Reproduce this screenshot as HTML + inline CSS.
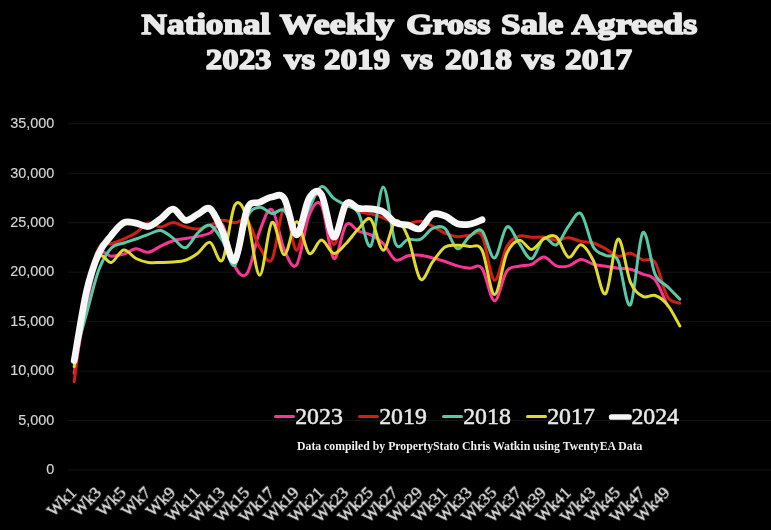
<!DOCTYPE html>
<html><head><meta charset="utf-8"><title>National Weekly Gross Sale Agreeds</title>
<style>
html,body{margin:0;padding:0;background:#000;}
body{width:771px;height:530px;overflow:hidden;font-family:"Liberation Serif",serif;}
svg{display:block;}
text{filter:url(#gs);}
.ttl{font-family:"Liberation Serif",serif;font-weight:bold;font-size:29.2px;fill:#eaeaea;stroke:#eaeaea;stroke-width:1.6px;stroke-linejoin:round;}
.yl{font-family:"Liberation Sans",sans-serif;font-size:14.4px;fill:#d4d4d4;stroke:#d4d4d4;stroke-width:0.15px;}
.xl{font-family:"Liberation Serif",serif;font-size:17.2px;fill:#e4e4e4;stroke:#e4e4e4;stroke-width:0.35px;}
.lg{font-family:"Liberation Serif",serif;font-size:22.5px;fill:#e8e8e8;stroke:#e8e8e8;stroke-width:0.5px;}
.cap{font-family:"Liberation Serif",serif;font-weight:bold;font-size:11.8px;fill:#f0f0f0;}
</style></head><body>
<svg width="771" height="530" viewBox="0 0 771 530">
<defs><filter id="gs" x="-5%" y="-50%" width="110%" height="200%" color-interpolation-filters="sRGB"><feOffset dx="0" dy="0"/></filter></defs>
<rect width="771" height="530" fill="#000"/>
<line x1="68" x2="771" y1="469.95" y2="469.95" stroke="#161616" stroke-width="1"/>
<line x1="68" x2="771" y1="420.50" y2="420.50" stroke="#161616" stroke-width="1"/>
<line x1="68" x2="771" y1="371.06" y2="371.06" stroke="#161616" stroke-width="1"/>
<line x1="68" x2="771" y1="321.61" y2="321.61" stroke="#161616" stroke-width="1"/>
<line x1="68" x2="771" y1="272.16" y2="272.16" stroke="#161616" stroke-width="1"/>
<line x1="68" x2="771" y1="222.71" y2="222.71" stroke="#161616" stroke-width="1"/>
<line x1="68" x2="771" y1="173.27" y2="173.27" stroke="#161616" stroke-width="1"/>
<line x1="68" x2="771" y1="123.82" y2="123.82" stroke="#161616" stroke-width="1"/>
<text x="54.3" y="474.25" text-anchor="end" class="yl">0</text>
<text x="54.3" y="424.80" text-anchor="end" class="yl">5,000</text>
<text x="54.3" y="375.36" text-anchor="end" class="yl">10,000</text>
<text x="54.3" y="325.91" text-anchor="end" class="yl">15,000</text>
<text x="54.3" y="276.46" text-anchor="end" class="yl">20,000</text>
<text x="54.3" y="227.01" text-anchor="end" class="yl">25,000</text>
<text x="54.3" y="177.57" text-anchor="end" class="yl">30,000</text>
<text x="54.3" y="128.12" text-anchor="end" class="yl">35,000</text>
<text x="141.60" y="33.5" class="ttl" textLength="128.60" lengthAdjust="spacingAndGlyphs">National</text>
<text x="279.80" y="33.5" class="ttl" textLength="114.10" lengthAdjust="spacingAndGlyphs">Weekly</text>
<text x="406.30" y="33.5" class="ttl" textLength="84.20" lengthAdjust="spacingAndGlyphs">Gross</text>
<text x="500.90" y="33.5" class="ttl" textLength="62.30" lengthAdjust="spacingAndGlyphs">Sale</text>
<text x="571.50" y="33.5" class="ttl" textLength="125.70" lengthAdjust="spacingAndGlyphs">Agreeds</text>
<text x="205.80" y="68.8" class="ttl" textLength="65.70" lengthAdjust="spacingAndGlyphs">2023</text>
<text x="284.00" y="68.8" class="ttl" textLength="31.00" lengthAdjust="spacingAndGlyphs">vs</text>
<text x="324.00" y="68.8" class="ttl" textLength="66.00" lengthAdjust="spacingAndGlyphs">2019</text>
<text x="402.00" y="68.8" class="ttl" textLength="31.00" lengthAdjust="spacingAndGlyphs">vs</text>
<text x="445.00" y="68.8" class="ttl" textLength="67.00" lengthAdjust="spacingAndGlyphs">2018</text>
<text x="522.00" y="68.8" class="ttl" textLength="33.00" lengthAdjust="spacingAndGlyphs">vs</text>
<text x="565.00" y="68.8" class="ttl" textLength="67.00" lengthAdjust="spacingAndGlyphs">2017</text>
<path d="M74.20,373.23 C76.26,361.83 82.44,324.44 86.56,304.80 C90.68,285.15 94.80,263.45 98.92,255.35 C103.04,247.25 107.16,256.38 111.28,256.18 C115.40,255.98 119.52,255.38 123.64,254.16 C127.76,252.94 131.88,249.18 136.00,248.87 C140.12,248.56 144.24,252.75 148.36,252.28 C152.48,251.81 156.60,247.98 160.72,246.05 C164.84,244.12 168.96,241.98 173.08,240.71 C177.20,239.44 181.32,239.16 185.44,238.44 C189.56,237.72 193.68,237.32 197.80,236.41 C201.92,235.50 206.04,234.94 210.16,232.99 C214.28,231.04 218.40,219.15 222.52,224.69 C226.64,230.23 230.76,258.15 234.88,266.23 C239.00,274.30 243.12,278.95 247.24,273.15 C251.36,267.35 255.48,242.01 259.60,231.43 C263.72,220.84 267.84,206.56 271.96,209.64 C276.08,212.72 280.20,240.73 284.32,249.91 C288.44,259.09 292.56,270.48 296.68,264.74 C300.80,259.01 304.92,225.37 309.04,215.48 C313.16,205.58 317.28,198.22 321.40,205.36 C325.52,212.50 329.64,255.08 333.76,258.32 C337.88,261.56 342.00,229.34 346.12,224.79 C350.24,220.25 354.36,229.35 358.48,231.04 C362.60,232.73 366.72,232.85 370.84,234.93 C374.96,237.00 379.08,239.30 383.20,243.48 C387.32,247.66 391.44,257.96 395.56,260.00 C399.68,262.03 403.80,256.50 407.92,255.70 C412.04,254.89 416.16,254.79 420.28,255.15 C424.40,255.51 428.52,256.81 432.64,257.87 C436.76,258.93 440.88,260.20 445.00,261.53 C449.12,262.86 453.24,264.73 457.36,265.83 C461.48,266.94 465.60,267.71 469.72,268.16 C473.84,268.60 477.96,263.05 482.08,268.50 C486.20,273.95 490.32,300.40 494.44,300.84 C498.56,301.29 502.68,276.94 506.80,271.17 C510.92,265.40 515.04,267.35 519.16,266.23 C523.28,265.11 527.40,265.99 531.52,264.45 C535.64,262.90 539.76,256.73 543.88,256.96 C548.00,257.19 552.12,264.35 556.24,265.83 C560.36,267.31 564.48,266.90 568.60,265.83 C572.72,264.76 576.84,259.68 580.96,259.40 C585.08,259.13 589.20,263.05 593.32,264.20 C597.44,265.35 601.56,265.66 605.68,266.33 C609.80,266.99 613.92,267.73 618.04,268.21 C622.16,268.68 626.28,268.22 630.40,269.19 C634.52,270.17 638.64,272.26 642.76,274.04 C646.88,275.82 651.00,274.62 655.12,279.88 C659.24,285.13 665.42,301.30 667.48,305.59" fill="none" stroke="#ff3397" stroke-width="3.0" stroke-linecap="round" stroke-linejoin="round"/>
<path d="M74.20,381.64 C76.26,366.69 82.44,314.27 86.56,291.94 C90.68,269.61 94.80,255.67 98.92,247.64 C103.04,239.60 107.16,245.16 111.28,243.73 C115.40,242.30 119.52,240.85 123.64,239.03 C127.76,237.22 131.88,235.50 136.00,232.83 C140.12,230.16 144.24,223.97 148.36,223.01 C152.48,222.05 156.60,227.16 160.72,227.07 C164.84,226.97 168.96,222.47 173.08,222.42 C177.20,222.37 181.32,225.66 185.44,226.77 C189.56,227.88 193.68,229.35 197.80,229.09 C201.92,228.83 206.04,226.68 210.16,225.21 C214.28,223.73 218.40,220.63 222.52,220.24 C226.64,219.85 230.76,222.82 234.88,222.87 C239.00,222.92 243.12,216.52 247.24,220.54 C251.36,224.56 255.48,240.51 259.60,246.99 C263.72,253.48 267.84,265.97 271.96,259.45 C276.08,252.93 280.20,209.39 284.32,207.88 C288.44,206.37 292.56,251.23 296.68,250.40 C300.80,249.58 304.92,211.61 309.04,202.94 C313.16,194.26 317.28,191.43 321.40,198.36 C325.52,205.28 329.64,243.21 333.76,244.47 C337.88,245.73 342.00,211.38 346.12,205.90 C350.24,200.42 354.36,210.25 358.48,211.59 C362.60,212.92 366.72,212.88 370.84,213.91 C374.96,214.95 379.08,216.21 383.20,217.81 C387.32,219.41 391.44,222.51 395.56,223.51 C399.68,224.50 403.80,224.19 407.92,223.80 C412.04,223.41 416.16,220.77 420.28,221.16 C424.40,221.55 428.52,224.14 432.64,226.14 C436.76,228.13 440.88,231.38 445.00,233.15 C449.12,234.91 453.24,236.39 457.36,236.73 C461.48,237.06 465.60,235.28 469.72,235.17 C473.84,235.05 477.96,228.55 482.08,236.07 C486.20,243.58 490.32,278.55 494.44,280.27 C498.56,281.99 502.68,253.71 506.80,246.38 C510.92,239.05 515.04,237.77 519.16,236.26 C523.28,234.76 527.40,237.22 531.52,237.35 C535.64,237.48 539.76,236.57 543.88,237.03 C548.00,237.50 552.12,240.02 556.24,240.15 C560.36,240.28 564.48,237.61 568.60,237.82 C572.72,238.02 576.84,240.53 580.96,241.40 C585.08,242.26 589.20,241.77 593.32,243.03 C597.44,244.28 601.56,246.70 605.68,248.92 C609.80,251.14 613.92,255.62 618.04,256.34 C622.16,257.06 626.28,252.63 630.40,253.22 C634.52,253.82 638.64,258.38 642.76,259.92 C646.88,261.46 651.00,256.33 655.12,262.47 C659.24,268.61 663.36,289.95 667.48,296.76 C671.60,303.56 677.78,302.20 679.84,303.29" fill="none" stroke="#d21e14" stroke-width="3.0" stroke-linecap="round" stroke-linejoin="round"/>
<path d="M74.20,358.20 C76.26,350.75 82.44,328.27 86.56,313.50 C90.68,298.73 94.80,280.52 98.92,269.59 C103.04,258.66 107.16,252.37 111.28,247.93 C115.40,243.50 119.52,244.47 123.64,242.99 C127.76,241.50 131.88,240.47 136.00,239.03 C140.12,237.60 144.24,235.81 148.36,234.38 C152.48,232.96 156.60,229.87 160.72,230.50 C164.84,231.12 168.96,235.26 173.08,238.14 C177.20,241.02 181.32,248.63 185.44,247.77 C189.56,246.92 193.68,236.75 197.80,232.99 C201.92,229.23 206.04,223.91 210.16,225.21 C214.28,226.50 218.40,234.10 222.52,240.77 C226.64,247.44 230.76,269.13 234.88,265.24 C239.00,261.35 243.12,227.08 247.24,217.42 C251.36,207.77 255.48,207.96 259.60,207.31 C263.72,206.66 267.84,212.97 271.96,213.53 C276.08,214.08 280.20,207.14 284.32,210.65 C288.44,214.16 292.56,234.94 296.68,234.58 C300.80,234.22 304.92,216.46 309.04,208.47 C313.16,200.49 317.28,188.37 321.40,186.69 C325.52,185.00 329.64,195.24 333.76,198.36 C337.88,201.47 342.00,202.89 346.12,205.36 C350.24,207.82 354.36,206.38 358.48,213.14 C362.60,219.91 366.72,250.33 370.84,245.95 C374.96,241.58 379.08,187.29 383.20,186.91 C387.32,186.54 391.44,234.94 395.56,243.68 C399.68,252.42 403.80,240.09 407.92,239.37 C412.04,238.65 416.16,241.18 420.28,239.37 C424.40,237.55 428.52,230.29 432.64,228.47 C436.76,226.65 440.88,225.09 445.00,228.47 C449.12,231.85 453.24,247.42 457.36,248.72 C461.48,250.02 465.60,239.21 469.72,236.26 C473.84,233.31 477.96,227.40 482.08,231.02 C486.20,234.65 490.32,258.70 494.44,258.02 C498.56,257.34 502.68,229.38 506.80,226.92 C510.92,224.46 515.04,237.95 519.16,243.26 C523.28,248.58 527.40,259.66 531.52,258.83 C535.64,258.00 539.76,240.62 543.88,238.28 C548.00,235.94 552.12,246.84 556.24,244.82 C560.36,242.79 564.48,231.34 568.60,226.14 C572.72,220.94 576.84,210.15 580.96,213.62 C585.08,217.08 589.20,239.97 593.32,246.94 C597.44,253.92 601.56,253.18 605.68,255.45 C609.80,257.71 613.92,252.31 618.04,260.54 C622.16,268.77 626.28,309.49 630.40,304.85 C634.52,300.21 638.64,237.77 642.76,232.70 C646.88,227.63 651.00,265.45 655.12,274.44 C659.24,283.43 663.36,282.53 667.48,286.64 C671.60,290.75 677.78,297.02 679.84,299.09" fill="none" stroke="#58c9a6" stroke-width="3.0" stroke-linecap="round" stroke-linejoin="round"/>
<path d="M74.20,366.61 C76.26,354.49 82.44,312.20 86.56,293.92 C90.68,275.64 94.80,262.17 98.92,256.93 C103.04,251.69 107.16,263.63 111.28,262.47 C115.40,261.31 119.52,250.62 123.64,249.96 C127.76,249.30 131.88,256.44 136.00,258.51 C140.12,260.59 144.24,261.76 148.36,262.41 C152.48,263.06 156.60,262.47 160.72,262.41 C164.84,262.35 168.96,262.39 173.08,262.02 C177.20,261.66 181.32,261.69 185.44,260.22 C189.56,258.76 193.68,256.21 197.80,253.22 C201.92,250.24 206.04,241.20 210.16,242.33 C214.28,243.45 218.40,266.23 222.52,260.00 C226.64,253.76 230.76,211.84 234.88,204.91 C239.00,197.99 243.12,206.76 247.24,218.46 C251.36,230.16 255.48,274.47 259.60,275.13 C263.72,275.79 267.84,225.80 271.96,222.42 C276.08,219.04 280.20,254.97 284.32,254.85 C288.44,254.74 292.56,221.97 296.68,221.73 C300.80,221.48 304.92,250.31 309.04,253.37 C313.16,256.44 317.28,240.12 321.40,240.12 C325.52,240.12 329.64,252.81 333.76,253.37 C337.88,253.93 342.00,247.59 346.12,243.48 C350.24,239.37 354.36,232.71 358.48,228.71 C362.60,224.70 366.72,215.87 370.84,219.45 C374.96,223.03 379.08,249.98 383.20,250.21 C387.32,250.44 391.44,223.03 395.56,220.84 C399.68,218.64 403.80,227.34 407.92,237.03 C412.04,246.73 416.16,274.86 420.28,279.01 C424.40,283.17 428.52,267.27 432.64,261.95 C436.76,256.62 440.88,249.82 445.00,247.04 C449.12,244.26 453.24,245.36 457.36,245.26 C461.48,245.16 465.60,245.61 469.72,246.45 C473.84,247.28 477.96,242.24 482.08,250.27 C486.20,258.29 490.32,294.06 494.44,294.58 C498.56,295.10 502.68,262.44 506.80,253.37 C510.92,244.30 515.04,240.80 519.16,240.15 C523.28,239.50 527.40,249.69 531.52,249.48 C535.64,249.28 539.76,241.03 543.88,238.90 C548.00,236.78 552.12,233.67 556.24,236.73 C560.36,239.79 564.48,255.92 568.60,257.27 C572.72,258.62 576.84,244.27 580.96,244.82 C585.08,245.36 589.20,252.40 593.32,260.54 C597.44,268.68 601.56,297.21 605.68,293.64 C609.80,290.07 613.92,241.06 618.04,239.13 C622.16,237.20 626.28,272.50 630.40,282.05 C634.52,291.60 638.64,294.20 642.76,296.44 C646.88,298.68 651.00,294.10 655.12,295.50 C659.24,296.90 663.36,299.76 667.48,304.85 C671.60,309.93 677.78,322.49 679.84,326.02" fill="none" stroke="#e0da2b" stroke-width="3.0" stroke-linecap="round" stroke-linejoin="round"/>
<path d="M74.20,360.67 C76.26,349.09 82.44,309.12 86.56,291.19 C90.68,273.26 94.80,262.34 98.92,253.07 C103.04,243.81 107.16,240.63 111.28,235.57 C115.40,230.51 119.52,224.79 123.64,222.71 C127.76,220.64 131.88,222.48 136.00,223.11 C140.12,223.74 144.24,227.20 148.36,226.47 C152.48,225.75 156.60,221.64 160.72,218.76 C164.84,215.87 168.96,208.92 173.08,209.17 C177.20,209.41 181.32,219.38 185.44,220.24 C189.56,221.10 193.68,216.20 197.80,214.31 C201.92,212.41 206.04,206.02 210.16,208.87 C214.28,211.72 218.40,222.86 222.52,231.43 C226.64,240.00 230.76,264.05 234.88,260.29 C239.00,256.53 243.12,218.53 247.24,208.87 C251.36,199.21 255.48,204.32 259.60,202.34 C263.72,200.36 267.84,197.64 271.96,197.00 C276.08,196.36 280.20,192.19 284.32,198.49 C288.44,204.78 292.56,234.78 296.68,234.78 C300.80,234.78 304.92,205.19 309.04,198.49 C313.16,191.78 317.28,188.10 321.40,194.53 C325.52,200.96 329.64,235.51 333.76,237.05 C337.88,238.60 342.00,208.59 346.12,203.81 C350.24,199.03 354.36,207.53 358.48,208.37 C362.60,209.22 366.72,208.29 370.84,208.87 C374.96,209.45 379.08,209.50 383.20,211.84 C387.32,214.18 391.44,220.70 395.56,222.91 C399.68,225.12 403.80,224.13 407.92,225.09 C412.04,226.04 416.16,230.44 420.28,228.65 C424.40,226.85 428.52,216.42 432.64,214.31 C436.76,212.20 440.88,214.42 445.00,215.99 C449.12,217.56 453.24,222.34 457.36,223.70 C461.48,225.07 465.60,224.86 469.72,224.20 C473.84,223.54 480.02,220.49 482.08,219.75" fill="none" stroke="#f7f7f7" stroke-width="6.7" stroke-linecap="round" stroke-linejoin="round"/>
<text transform="translate(77.40,493.70) rotate(-45)" text-anchor="end" class="xl">Wk1</text>
<text transform="translate(102.12,493.70) rotate(-45)" text-anchor="end" class="xl">Wk3</text>
<text transform="translate(126.84,493.70) rotate(-45)" text-anchor="end" class="xl">Wk5</text>
<text transform="translate(151.56,493.70) rotate(-45)" text-anchor="end" class="xl">Wk7</text>
<text transform="translate(176.28,493.70) rotate(-45)" text-anchor="end" class="xl">Wk9</text>
<text transform="translate(201.00,493.70) rotate(-45)" text-anchor="end" class="xl">Wk11</text>
<text transform="translate(225.72,493.70) rotate(-45)" text-anchor="end" class="xl">Wk13</text>
<text transform="translate(250.44,493.70) rotate(-45)" text-anchor="end" class="xl">Wk15</text>
<text transform="translate(275.16,493.70) rotate(-45)" text-anchor="end" class="xl">Wk17</text>
<text transform="translate(299.88,493.70) rotate(-45)" text-anchor="end" class="xl">Wk19</text>
<text transform="translate(324.60,493.70) rotate(-45)" text-anchor="end" class="xl">Wk21</text>
<text transform="translate(349.32,493.70) rotate(-45)" text-anchor="end" class="xl">Wk23</text>
<text transform="translate(374.04,493.70) rotate(-45)" text-anchor="end" class="xl">Wk25</text>
<text transform="translate(398.76,493.70) rotate(-45)" text-anchor="end" class="xl">Wk27</text>
<text transform="translate(423.48,493.70) rotate(-45)" text-anchor="end" class="xl">Wk29</text>
<text transform="translate(448.20,493.70) rotate(-45)" text-anchor="end" class="xl">Wk31</text>
<text transform="translate(472.92,493.70) rotate(-45)" text-anchor="end" class="xl">Wk33</text>
<text transform="translate(497.64,493.70) rotate(-45)" text-anchor="end" class="xl">Wk35</text>
<text transform="translate(522.36,493.70) rotate(-45)" text-anchor="end" class="xl">Wk37</text>
<text transform="translate(547.08,493.70) rotate(-45)" text-anchor="end" class="xl">Wk39</text>
<text transform="translate(571.80,493.70) rotate(-45)" text-anchor="end" class="xl">Wk41</text>
<text transform="translate(596.52,493.70) rotate(-45)" text-anchor="end" class="xl">Wk43</text>
<text transform="translate(621.24,493.70) rotate(-45)" text-anchor="end" class="xl">Wk45</text>
<text transform="translate(645.96,493.70) rotate(-45)" text-anchor="end" class="xl">Wk47</text>
<text transform="translate(670.68,493.70) rotate(-45)" text-anchor="end" class="xl">Wk49</text>
<line x1="275.50" x2="293.50" y1="416.6" y2="416.6" stroke="#ff3397" stroke-width="3.0" stroke-linecap="round"/>
<text x="295.2" y="423.5" class="lg" textLength="47.6" lengthAdjust="spacingAndGlyphs">2023</text>
<line x1="359.50" x2="377.50" y1="416.6" y2="416.6" stroke="#d21e14" stroke-width="3.0" stroke-linecap="round"/>
<text x="379.2" y="423.5" class="lg" textLength="47.6" lengthAdjust="spacingAndGlyphs">2019</text>
<line x1="443.50" x2="461.50" y1="416.6" y2="416.6" stroke="#58c9a6" stroke-width="3.0" stroke-linecap="round"/>
<text x="463.2" y="423.5" class="lg" textLength="47.6" lengthAdjust="spacingAndGlyphs">2018</text>
<line x1="527.50" x2="545.50" y1="416.6" y2="416.6" stroke="#e0da2b" stroke-width="3.0" stroke-linecap="round"/>
<text x="547.2" y="423.5" class="lg" textLength="47.6" lengthAdjust="spacingAndGlyphs">2017</text>
<line x1="611.65" x2="628.95" y1="417.0" y2="417.0" stroke="#f7f7f7" stroke-width="5.7" stroke-linecap="round"/>
<text x="631.4" y="423.5" class="lg" textLength="47.6" lengthAdjust="spacingAndGlyphs">2024</text>
<text x="297" y="449.9" class="cap" textLength="345.5" lengthAdjust="spacingAndGlyphs">Data compiled by PropertyStato Chris Watkin using TwentyEA Data</text>
</svg>
</body></html>
